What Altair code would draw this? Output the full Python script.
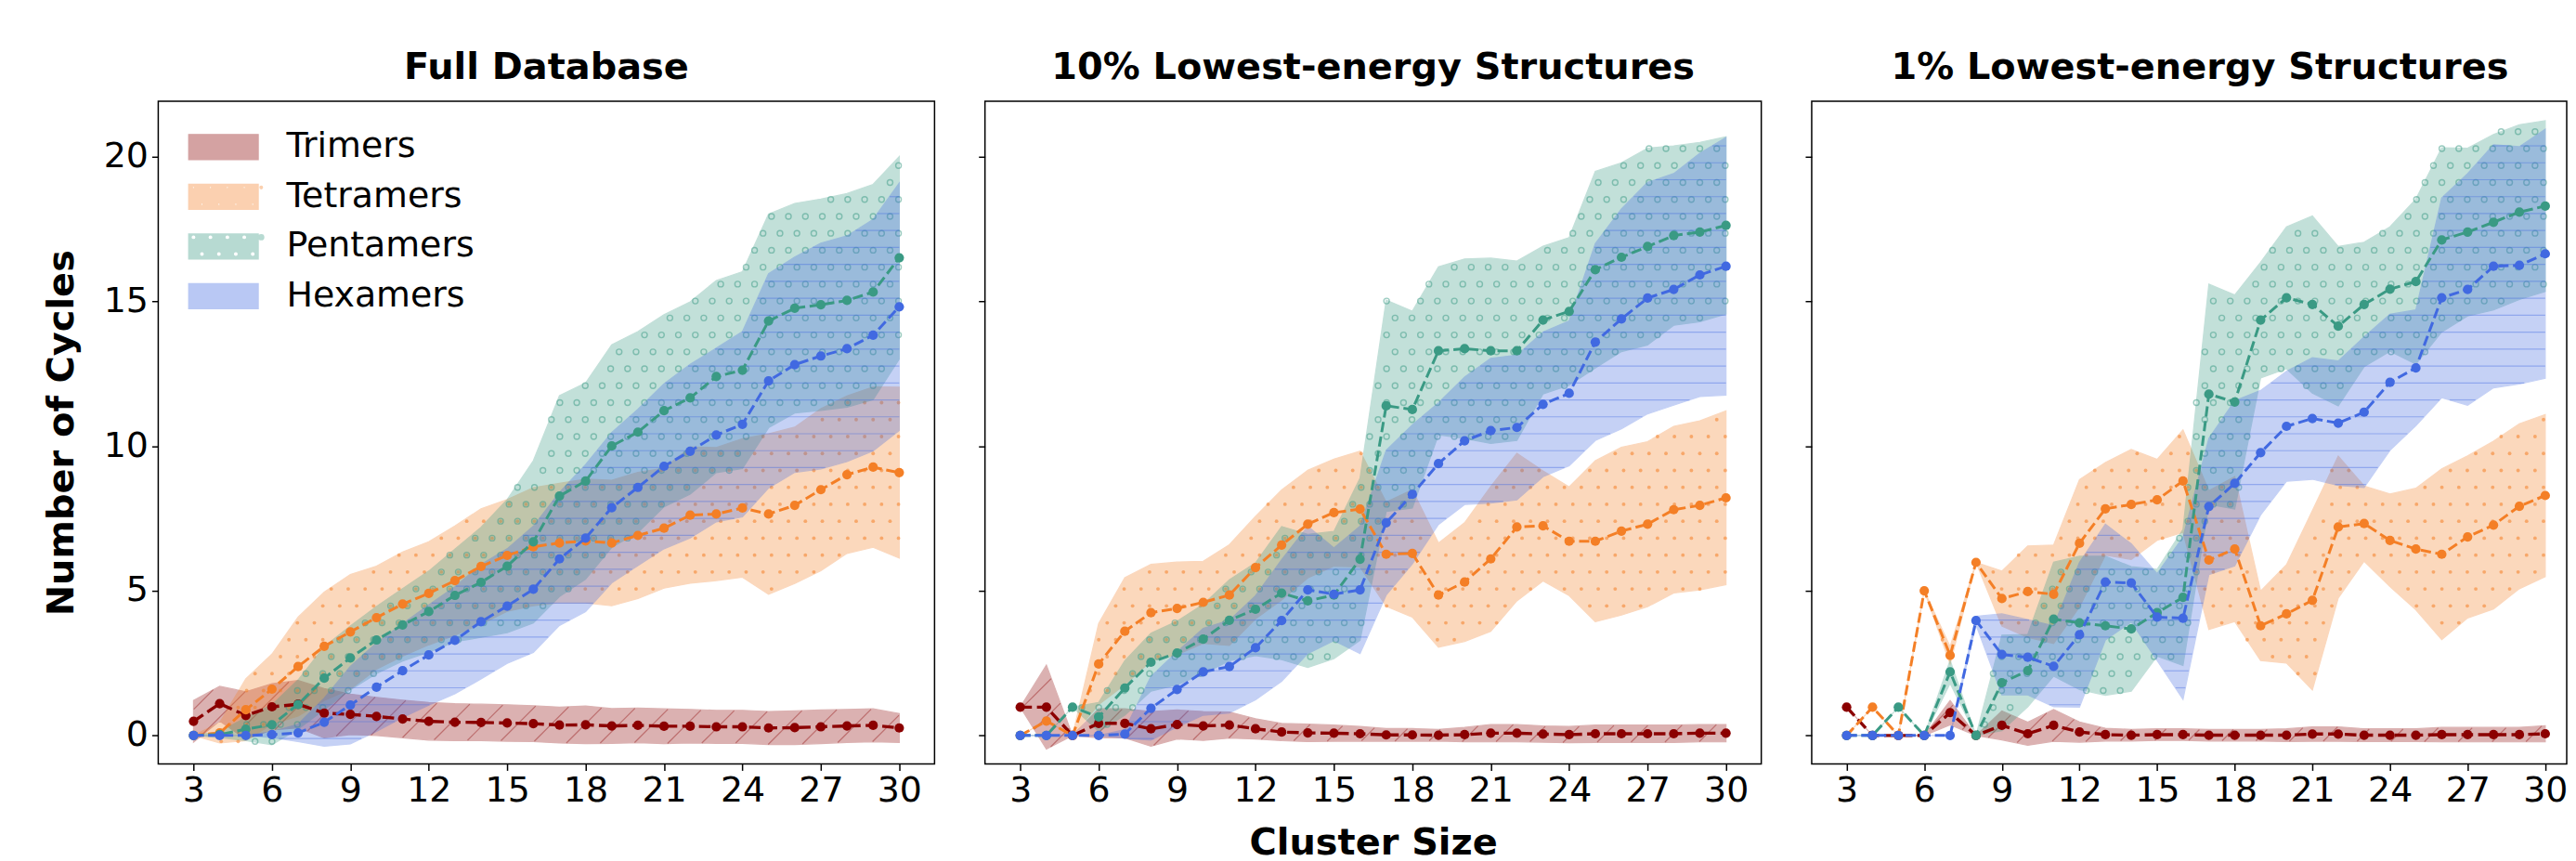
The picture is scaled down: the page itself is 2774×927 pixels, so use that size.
import altair as alt
import numpy as np
import pandas as pd

sizes = list(range(3, 31))
series_names = ["Trimers", "Tetramers", "Pentamers", "Hexamers"]
panel_titles = ["Full Database", "10% Lowest-energy Structures", "1% Lowest-energy Structures"]
colors = ["#8B0000", "#F47F26", "#3A9A84", "#4169E1"]

# ---- Full Database ----
tri_mean_p1 = [0.49, 1.10, 0.69, 0.99, 1.08, 0.77, 0.73, 0.66, 0.57, 0.49, 0.46, 0.45, 0.43, 0.41, 0.36, 0.37, 0.33, 0.35, 0.32, 0.32, 0.30, 0.30, 0.26, 0.27, 0.30, 0.33, 0.35, 0.26]
tri_std_p1 = [0.72, 0.60, 0.82, 0.80, 0.82, 0.85, 0.70, 0.66, 0.65, 0.65, 0.64, 0.63, 0.63, 0.62, 0.62, 0.65, 0.60, 0.60, 0.60, 0.58, 0.57, 0.57, 0.57, 0.58, 0.58, 0.57, 0.57, 0.50]
tet_mean_p1 = [0.0, 0.09, 0.89, 1.60, 2.38, 3.08, 3.58, 4.07, 4.54, 4.91, 5.35, 5.84, 6.22, 6.52, 6.65, 6.72, 6.65, 6.91, 7.16, 7.61, 7.65, 7.86, 7.65, 7.95, 8.49, 9.01, 9.27, 9.08]
tet_std_p1 = [0.0, 0.35, 1.07, 1.21, 1.71, 1.87, 1.98, 1.78, 1.80, 1.78, 1.89, 1.99, 1.93, 2.04, 2.06, 2.14, 2.17, 2.18, 2.07, 2.35, 2.30, 2.39, 2.77, 2.70, 2.80, 2.72, 2.77, 2.95]
pen_mean_p1 = [0.0, 0.03, 0.22, 0.37, 1.07, 1.98, 2.68, 3.30, 3.82, 4.28, 4.84, 5.29, 5.85, 6.69, 8.27, 8.79, 10.00, 10.48, 11.22, 11.66, 12.40, 12.62, 14.32, 14.76, 14.88, 15.03, 15.32, 16.50]
pen_std_p1 = [0.0, 0.10, 0.40, 0.69, 0.85, 1.09, 1.10, 1.16, 1.25, 1.40, 1.60, 1.90, 2.30, 2.80, 3.47, 3.39, 3.50, 3.47, 3.32, 3.32, 3.32, 3.40, 3.69, 3.62, 3.65, 3.69, 3.72, 3.50]
hex_mean_p1 = [0.0, 0.0, 0.0, 0.03, 0.09, 0.46, 1.05, 1.67, 2.24, 2.78, 3.29, 3.93, 4.47, 5.05, 6.10, 6.82, 7.87, 8.57, 9.30, 9.82, 10.38, 10.75, 12.25, 12.81, 13.11, 13.36, 13.83, 14.81]
hex_std_p1 = [0.0, 0.0, 0.0, 0.10, 0.30, 0.83, 1.34, 1.53, 1.62, 1.73, 1.85, 1.98, 1.98, 2.18, 2.30, 2.54, 2.60, 2.70, 2.85, 3.00, 3.00, 3.20, 3.70, 3.72, 3.90, 3.90, 4.00, 4.27]

# ---- 10% Lowest-energy Structures ----
tri_mean_p2 = [0.98, 0.98, 0.0, 0.42, 0.42, 0.23, 0.38, 0.33, 0.36, 0.23, 0.12, 0.09, 0.08, 0.06, 0.02, 0.02, 0.01, 0.03, 0.08, 0.08, 0.05, 0.03, 0.06, 0.06, 0.06, 0.06, 0.08, 0.08]
tri_std_p2 = [0.0, 1.45, 0.0, 0.50, 0.50, 0.60, 0.50, 0.50, 0.45, 0.35, 0.30, 0.30, 0.28, 0.25, 0.22, 0.22, 0.20, 0.25, 0.30, 0.30, 0.28, 0.28, 0.30, 0.30, 0.30, 0.30, 0.30, 0.30]
tet_mean_p2 = [0.0, 0.5, 0.0, 2.47, 3.60, 4.24, 4.39, 4.60, 4.85, 5.80, 6.58, 7.30, 7.70, 7.82, 6.26, 6.29, 4.85, 5.30, 6.10, 7.20, 7.24, 6.71, 6.71, 7.06, 7.30, 7.80, 7.95, 8.21]
tet_std_p2 = [0.0, 0.0, 0.0, 1.40, 1.85, 1.67, 1.60, 1.42, 1.74, 1.77, 1.90, 1.86, 1.85, 2.00, 1.80, 2.20, 1.80, 2.05, 2.50, 2.55, 1.90, 1.88, 2.78, 2.90, 2.85, 2.88, 2.92, 3.00]
pen_mean_p2 = [0.0, 0.0, 0.98, 0.64, 1.64, 2.53, 2.85, 3.33, 3.98, 4.36, 4.92, 4.65, 4.85, 6.09, 11.39, 11.26, 13.29, 13.36, 13.29, 13.29, 14.35, 14.65, 16.09, 16.52, 16.89, 17.27, 17.39, 17.62]
pen_std_p2 = [0.0, 0.0, 0.0, 0.50, 0.94, 1.00, 1.10, 1.20, 1.40, 1.60, 2.30, 2.30, 2.20, 2.80, 3.65, 3.40, 2.90, 3.10, 3.20, 3.10, 2.55, 2.55, 3.40, 3.26, 3.40, 3.10, 3.10, 3.06]
hex_mean_p2 = [0.0, 0.0, 0.0, 0.0, 0.05, 0.94, 1.59, 2.20, 2.38, 3.03, 3.97, 5.03, 4.88, 5.03, 7.35, 8.33, 9.39, 10.18, 10.53, 10.64, 11.44, 11.82, 13.59, 14.39, 15.11, 15.41, 15.91, 16.21]
hex_std_p2 = [0.0, 0.0, 0.0, 0.0, 0.15, 1.10, 1.30, 1.50, 1.60, 1.80, 2.10, 2.20, 1.60, 2.20, 2.50, 2.40, 2.10, 2.20, 2.50, 2.50, 2.50, 2.50, 3.40, 3.80, 4.00, 4.00, 4.20, 4.45]

# ---- 1% Lowest-energy Structures ----
tri_mean_p3 = [0.98, 0.0, 0.0, 0.0, 0.79, 0.0, 0.35, 0.06, 0.35, 0.12, 0.03, 0.01, 0.03, 0.03, 0.01, 0.01, 0.01, 0.01, 0.05, 0.05, 0.01, 0.01, 0.01, 0.03, 0.03, 0.03, 0.03, 0.06]
tri_std_p3 = [0.0, 0.0, 0.0, 0.0, 0.42, 0.0, 0.50, 0.40, 0.55, 0.35, 0.22, 0.20, 0.20, 0.20, 0.20, 0.20, 0.20, 0.22, 0.25, 0.25, 0.22, 0.22, 0.22, 0.25, 0.25, 0.25, 0.25, 0.28]
tet_mean_p3 = [0.0, 0.98, 0.0, 5.00, 2.77, 5.98, 4.73, 4.97, 4.88, 6.64, 7.83, 7.98, 8.14, 8.79, 6.06, 6.44, 3.79, 4.20, 4.67, 7.20, 7.32, 6.74, 6.44, 6.26, 6.86, 7.27, 7.92, 8.29]
tet_std_p3 = [0.0, 0.0, 0.0, 0.0, 0.30, 0.0, 0.95, 1.58, 1.70, 2.20, 1.60, 1.90, 1.40, 1.77, 2.40, 2.50, 1.20, 1.70, 3.10, 2.45, 1.30, 1.60, 2.10, 2.95, 2.80, 2.90, 2.85, 2.80]
pen_mean_p3 = [0.0, 0.0, 0.98, 0.0, 2.20, 0.0, 1.82, 2.24, 4.02, 3.89, 3.79, 3.68, 4.24, 4.77, 11.79, 11.52, 14.35, 15.12, 14.89, 14.14, 14.89, 15.42, 15.68, 17.12, 17.39, 17.73, 18.08, 18.29]
pen_std_p3 = [0.0, 0.0, 0.0, 0.0, 0.40, 0.0, 1.65, 1.25, 1.97, 2.30, 2.40, 2.15, 1.50, 2.35, 3.80, 3.70, 2.00, 2.45, 3.06, 2.75, 2.15, 2.15, 2.85, 3.18, 2.90, 3.03, 3.02, 2.95]
hex_mean_p3 = [0.0, 0.0, 0.0, 0.0, 0.0, 3.97, 2.80, 2.70, 2.39, 3.48, 5.30, 5.27, 4.09, 4.05, 7.91, 8.71, 9.77, 10.68, 10.95, 10.79, 11.17, 12.20, 12.70, 15.12, 15.41, 16.21, 16.24, 16.64]
hex_std_p3 = [0.0, 0.0, 0.0, 0.0, 0.0, 0.15, 1.40, 1.30, 1.40, 2.50, 2.00, 1.35, 1.50, 2.80, 2.35, 2.85, 2.15, 1.90, 2.10, 2.15, 2.60, 2.35, 2.00, 3.45, 4.00, 4.20, 4.10, 4.30]

x_ticks = [3, 6, 9, 12, 15, 18, 21, 24, 27, 30]
y_ticks = [0, 5, 10, 15, 20]

panels = [
    [(tri_mean_p1, tri_std_p1), (tet_mean_p1, tet_std_p1), (pen_mean_p1, pen_std_p1), (hex_mean_p1, hex_std_p1)],
    [(tri_mean_p2, tri_std_p2), (tet_mean_p2, tet_std_p2), (pen_mean_p2, pen_std_p2), (hex_mean_p2, hex_std_p2)],
    [(tri_mean_p3, tri_std_p3), (tet_mean_p3, tet_std_p3), (pen_mean_p3, pen_std_p3), (hex_mean_p3, hex_std_p3)],
]

FONT = "DejaVu Sans"
H = 716
WIDTHS = [839, 839, 816]          # last panel runs to the right edge of the page
XDOMS = [[1.65, 31.35], [1.65, 31.35], [1.65, 30.83]]
YD = [-0.98, 21.91]
cscale = alt.Scale(domain=series_names, range=colors)
yscale = alt.Scale(domain=YD, nice=False, zero=False)
PXY = H / (YD[1] - YD[0])
SP = 18.3
XS = np.array(sizes, dtype=float)


# ---------- hatch textures (decoration inside each band) ----------
def inside_fn(lo, hi):
    lo = np.asarray(lo, float)
    hi = np.asarray(hi, float)

    def f(x, y):
        l = np.interp(x, XS, lo)
        h = np.interp(x, XS, hi)
        return (y >= l) & (y <= h) & (h - l > 1e-6) & (x >= XS[0]) & (x <= XS[-1])
    return f


def runs(mask):
    d = np.diff(np.concatenate([[0], mask.astype(int), [0]]))
    st = np.flatnonzero(d == 1)
    en = np.flatnonzero(d == -1) - 1
    return list(zip(st, en))


def lattice(f, x0, pxx, w):
    r, c = np.meshgrid(np.arange(int(H / SP) + 2), np.arange(int(w / SP) + 2), indexing="ij")
    xpx = c * SP + (r % 2) * SP / 2 + 4
    ypx = r * SP + 6
    x = x0 + xpx / pxx
    y = YD[0] + ypx / PXY
    m = f(x, y)
    return pd.DataFrame({"hx": x[m], "hy": y[m]})


def hlines(f):
    xf = np.linspace(XS[0], XS[-1], 2701)
    out = []
    for k in range(int(H / SP) + 1):
        y = YD[0] + (k * SP + 9) / PXY
        for a, b in runs(f(xf, np.full_like(xf, y))):
            if b > a:
                out.append({"hx": xf[a], "hx2": xf[b], "hy": y, "hy2": y})
    return pd.DataFrame(out, columns=["hx", "hx2", "hy", "hy2"])


def dlines(f, x0, pxx, w, sp=2 * SP):
    t = np.arange(0, H + 1, 0.5)
    out = []
    for c0 in np.arange(-H, w + sp, sp):
        x = x0 + (c0 + t) / pxx
        y = YD[0] + t / PXY
        for a, b in runs(f(x, y)):
            if b > a:
                out.append({"hx": x[a], "hy": y[a], "hx2": x[b], "hy2": y[b]})
    return pd.DataFrame(out, columns=["hx", "hx2", "hy", "hy2"])


# ---------- legend symbols: hatched rectangles (path unit = 27 px) ----------
HW = 75 / 27 / 2
rect = f"M{-HW:.3f},-0.5H{HW:.3f}V0.5H{-HW:.3f}Z"
tri_hatch = rect + f" M{-HW:.3f},0L-0.89,-0.5 M-0.52,0.5L0.48,-0.5 M0.85,0.5L{HW:.3f},-0.039"


def dots(r, rws, cols):
    s = ""
    for yy, xs in zip(rws, cols):
        for xx in xs:
            s += f" M{xx - r:.3f},{yy:.3f}a{r},{r} 0 1,0 {2*r},0a{r},{r} 0 1,0 {-2*r},0"
    return s


sp_u = SP / 27
dot_cols = [[-1.2 + sp_u * k for k in range(5)], [-1.2 + sp_u * (k + 0.5) for k in range(4)]]
tet_hatch = rect + dots(0.05, [-0.37, 0.3], dot_cols)
pen_hatch = rect + dots(0.1, [-0.37, 0.3], dot_cols)
hex_hatch = rect + f" M{-HW:.3f},0H{HW:.3f}"
shape_scale = alt.Scale(domain=series_names, range=[tri_hatch, tet_hatch, pen_hatch, hex_hatch])

legend = alt.Legend(
    title=None, orient="none", legendX=42.5, legendY=21.5, padding=0,
    labelFont=FONT, labelFontSize=38, labelColor="black", labelOffset=40, labelLimit=600,
    symbolSize=2916, rowPadding=6.7, symbolStrokeWidth=1.4, symbolOpacity=0.36,
)

rows = []
for p, plist in enumerate(panels):
    for s, (m, sd) in enumerate(plist):
        for i, xv in enumerate(sizes):
            rows.append({"panel": p, "series": series_names[s], "x": xv, "mean": m[i],
                         "lo": m[i] - sd[i], "hi": m[i] + sd[i]})
df = pd.DataFrame(rows)


def panel_chart(p):
    d = df[df.panel == p]
    w = WIDTHS[p]
    xd = XDOMS[p]
    pxx = w / (xd[1] - xd[0])
    xscale = alt.Scale(domain=xd, nice=False, zero=False)
    if p == 1:
        xaxis = alt.Axis(values=x_ticks, title="Cluster Size", titleFont=FONT, titleFontSize=40,
                         titleFontWeight="bold", titlePadding=17, titleColor="black")
    else:
        xaxis = alt.Axis(values=x_ticks, title=None)
    if p == 0:
        yaxis = alt.Axis(values=y_ticks, title="Number of Cycles", titleFont=FONT, titleFontSize=40,
                         titleFontWeight="bold", titlePadding=25, titleColor="black")
    else:
        yaxis = alt.Axis(values=y_ticks, title=None, labels=False)
    X = alt.X("x:Q", scale=xscale, axis=xaxis)
    layers = []
    if p == 0:
        layers.append(
            alt.Chart(d).transform_filter("false").mark_point(filled=True, strokeWidth=1.4).encode(
                x=X, y=alt.Y("mean:Q", scale=yscale, axis=yaxis),
                color=alt.Color("series:N", scale=cscale, legend=legend),
                stroke=alt.Stroke("series:N", scale=cscale, legend=legend),
                shape=alt.Shape("series:N", scale=shape_scale, legend=legend),
            )
        )
    for s, name in enumerate(series_names):
        ds = d[d.series == name]
        layers.append(
            alt.Chart(ds).mark_area(opacity=0.3, strokeWidth=1.2).encode(
                x=X,
                y=alt.Y("lo:Q", scale=yscale, axis=yaxis),
                y2="hi:Q",
                color=alt.Color("series:N", scale=cscale, legend=None),
                stroke=alt.Stroke("series:N", scale=cscale, legend=None),
            )
        )
        f = inside_fn(ds["lo"].values, ds["hi"].values)
        HX = alt.X("hx:Q", scale=xscale, axis=xaxis)
        HY = alt.Y("hy:Q", scale=yscale, axis=yaxis)
        if s == 0:
            hd = dlines(f, xd[0], pxx, w)
            if len(hd):
                layers.append(alt.Chart(hd).mark_rule(strokeWidth=1.2, opacity=0.38, color=colors[s]).encode(
                    x=HX, y=HY, x2="hx2:Q", y2="hy2:Q"))
        elif s == 1:
            hd = lattice(f, xd[0], pxx, w)
            if len(hd):
                layers.append(alt.Chart(hd).mark_circle(size=15, opacity=0.55, color=colors[s]).encode(
                    x=HX, y=HY))
        elif s == 2:
            hd = lattice(f, xd[0], pxx, w)
            if len(hd):
                layers.append(alt.Chart(hd).mark_point(shape="circle", filled=False, size=36, strokeWidth=1.4,
                                                       opacity=0.5, color=colors[s]).encode(x=HX, y=HY))
        else:
            hd = hlines(f)
            if len(hd):
                layers.append(alt.Chart(hd).mark_rule(strokeWidth=1.2, opacity=0.4, color=colors[s]).encode(
                    x=HX, y=HY, x2="hx2:Q", y2="hy2:Q"))
    for s, name in enumerate(series_names):
        ds = d[d.series == name]
        lw = 3.4 if s == 0 else 3.0
        layers.append(
            alt.Chart(ds).mark_line(strokeWidth=lw, strokeDash=[3.7 * lw, 1.6 * lw]).encode(
                x=X, y=alt.Y("mean:Q", scale=yscale, axis=yaxis),
                color=alt.Color("series:N", scale=cscale, legend=None),
            )
        )
        layers.append(
            alt.Chart(ds).mark_circle(size=105, opacity=1).encode(
                x=X, y=alt.Y("mean:Q", scale=yscale, axis=yaxis),
                color=alt.Color("series:N", scale=cscale, legend=None),
            )
        )
    tdx = (839 - w) / 2
    return alt.layer(*layers).properties(
        width=w, height=H,
        title=alt.TitleParams(panel_titles[p], font=FONT, fontSize=40, fontWeight="bold",
                              anchor="middle", frame="group", offset=-15.6, baseline="alphabetic",
                              color="black", dx=tdx),
    )


chart = alt.hconcat(*[panel_chart(p) for p in range(3)], spacing=44.5).resolve_legend(
    color="independent", stroke="independent", shape="independent").properties(
    padding={"left": 37, "top": 41.7, "right": 0, "bottom": 0}
).configure_view(stroke="black", strokeWidth=1.5).configure_axis(
    labelFont=FONT, labelFontSize=38, labelColor="black", labelPadding=4,
    tickSize=7, tickWidth=1.5, tickColor="black", domain=False, grid=False,
).configure_axisX(labelPadding=3)

chart.save("out.html", embed_options={"renderer": "svg", "actions": False})
